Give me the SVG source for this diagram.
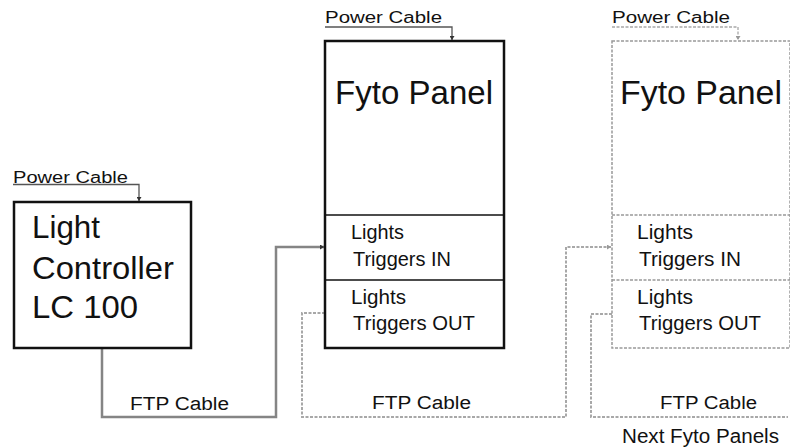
<svg xmlns="http://www.w3.org/2000/svg" width="790" height="447" viewBox="0 0 790 447">
<style>
text{font-family:"Liberation Sans",Arial,sans-serif;fill:#111}
.box{fill:#fff;stroke:#111;stroke-width:2.5}
.div{stroke:#111;stroke-width:1.5;fill:none}
.dbox{fill:#fff;stroke:#999;stroke-width:1.5;stroke-dasharray:3 1.5}
.ddiv{stroke:#999;stroke-width:1.5;stroke-dasharray:3 1.5;fill:none}
.solid{fill:none;stroke:#858585;stroke-width:2.5}
.thin{fill:none;stroke:#555;stroke-width:1.3}
.dot{fill:none;stroke:#a8a8a8;stroke-width:2;stroke-dasharray:3 1.5}
.dotthin{fill:none;stroke:#a8a8a8;stroke-width:1.3;stroke-dasharray:3 1.5}
.pc{font-size:16px}
.ftp{font-size:18px}
.big{font-size:34px}
.mid{font-size:20px}
.lc{font-size:32px}
</style>
<defs>
<marker id="ah" markerWidth="5" markerHeight="5" refX="4" refY="2.5" orient="auto" markerUnits="userSpaceOnUse">
<path d="M0,0 L4,2.5 L0,5 z" fill="#333"/>
</marker>
<marker id="ahg" markerWidth="5" markerHeight="5" refX="4" refY="2.5" orient="auto" markerUnits="userSpaceOnUse">
<path d="M0,0 L4,2.5 L0,5 z" fill="#999"/>
</marker>
</defs>
<g id="connectors">
<path class="thin" d="M13,184.5 H139 V201" marker-end="url(#ah)"/>
<path class="thin" d="M325,27 H452 V40" marker-end="url(#ah)"/>
<path class="dotthin" d="M612,27 H738 V40" marker-end="url(#ahg)"/>
<path class="solid" d="M102,349 V417 H276 V247 H324" marker-end="url(#ah)"/>
<path class="dot" d="M325,313 H302 V417 H566 V247 H611" marker-end="url(#ahg)"/>
<path class="dot" d="M612,314 H591 V417 H788"/>
<text class="ftp" x="130" y="410" textLength="99" lengthAdjust="spacingAndGlyphs">FTP Cable</text>
<text class="ftp" x="372" y="409" textLength="99" lengthAdjust="spacingAndGlyphs">FTP Cable</text>
<text class="ftp" x="660" y="409" textLength="97" lengthAdjust="spacingAndGlyphs">FTP Cable</text>
<text class="mid" x="622" y="443" textLength="157" lengthAdjust="spacingAndGlyphs">Next Fyto Panels</text>
<text class="pc" x="13" y="183" textLength="115" lengthAdjust="spacingAndGlyphs">Power Cable</text>
<text class="pc" x="325" y="23" textLength="117" lengthAdjust="spacingAndGlyphs">Power Cable</text>
<text class="pc" x="612" y="23" textLength="118" lengthAdjust="spacingAndGlyphs">Power Cable</text>
</g>
<g id="lc100">
<rect class="box" x="14" y="202" width="177" height="146"/>
<text class="lc" x="32" y="238" textLength="68" lengthAdjust="spacingAndGlyphs">Light</text>
<text class="lc" x="32" y="279" textLength="142" lengthAdjust="spacingAndGlyphs">Controller</text>
<text class="lc" x="32" y="318" textLength="106" lengthAdjust="spacingAndGlyphs">LC 100</text>
</g>
<g id="panel1">
<rect class="box" x="325" y="41" width="179" height="307"/>
<line class="div" x1="325" y1="215" x2="504" y2="215"/>
<line class="div" x1="325" y1="280" x2="504" y2="280"/>
<text class="big" x="335" y="104" textLength="158" lengthAdjust="spacingAndGlyphs">Fyto Panel</text>
<text class="mid" x="351" y="239" textLength="53" lengthAdjust="spacingAndGlyphs">Lights</text>
<text class="mid" x="353" y="266" textLength="98" lengthAdjust="spacingAndGlyphs">Triggers IN</text>
<text class="mid" x="351" y="304" textLength="55" lengthAdjust="spacingAndGlyphs">Lights</text>
<text class="mid" x="353" y="330" textLength="122" lengthAdjust="spacingAndGlyphs">Triggers OUT</text>
</g>
<g id="panel2">
<rect class="dbox" x="612" y="41" width="178" height="307"/>
<line class="ddiv" x1="612" y1="215" x2="790" y2="215"/>
<line class="ddiv" x1="612" y1="280" x2="790" y2="280"/>
<text class="big" x="620" y="104" textLength="162" lengthAdjust="spacingAndGlyphs">Fyto Panel</text>
<text class="mid" x="637" y="239" textLength="56" lengthAdjust="spacingAndGlyphs">Lights</text>
<text class="mid" x="639" y="266" textLength="102" lengthAdjust="spacingAndGlyphs">Triggers IN</text>
<text class="mid" x="637" y="304" textLength="56" lengthAdjust="spacingAndGlyphs">Lights</text>
<text class="mid" x="639" y="330" textLength="122" lengthAdjust="spacingAndGlyphs">Triggers OUT</text>
</g>
</svg>
